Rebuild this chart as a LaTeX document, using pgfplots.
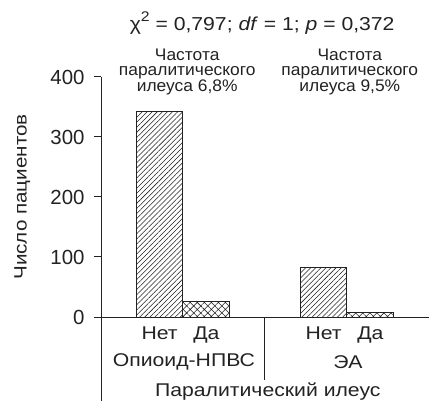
\documentclass[border=0pt]{standalone}
\usepackage{fontspec}
\setmainfont{Liberation Sans}
\newfontfamily\wide[FakeStretch=1.15]{Liberation Sans}
\newfontfamily\wideT[FakeStretch=1.13]{Liberation Sans}
\newfontfamily\wideA[FakeStretch=1.04]{Liberation Sans}
\usepackage{pgfplots}
\pgfplotsset{compat=1.18}
\usetikzlibrary{patterns.meta}
\definecolor{ink}{HTML}{222222}
\begin{document}
\begin{tikzpicture}[x=1bp,y=1bp]
\path[use as bounding box] (0,0) rectangle (429,401);
\begin{axis}[
  at={(101bp,84bp)}, anchor=south west,
  scale only axis, width=328bp, height=240bp,
  xmin=0, xmax=7, ymin=0, ymax=400,
  clip=false,
  axis line style={draw=none},
  ytick={0,100,200,300,400},
  xtick={1.25,2.25,4.75,5.75},
  xticklabels={Нет,Да,Нет,Да},
  tick pos=left,
  tick align=outside,
  major tick length=7bp,
  y tick style={line width=1bp, ink},
  x tick style={draw=none},
  yticklabel style={font=\fontsize{20.5}{21}\selectfont, text=ink, anchor=east, xshift=-6bp},
  xticklabel style={font=\wide\fontsize{18.5}{20}\selectfont, text=ink, anchor=base, yshift=-15bp},
  /pgf/number format/assume math mode=true,
]
\addplot[ybar, bar width=1, bar shift=0, draw=ink, line width=1bp, fill=white,
  postaction={pattern={Lines[angle=45,distance=3.6pt,line width=0.55pt]}, pattern color=ink}]
  coordinates {(1.25,343) (4.75,83)};
\addplot[ybar, bar width=1, bar shift=0, draw=ink, line width=1bp, fill=white,
  postaction={pattern={Hatch[angle=45,distance=5pt,line width=0.55pt]}, pattern color=ink}]
  coordinates {(2.25,25) (5.75,8)};
\draw[line width=1bp, ink] (axis cs:0,400) -- (axis cs:0,-140);
\draw[line width=1bp, ink] (axis cs:0,0) -- (axis cs:7,0);
\draw[line width=1bp, ink] (axis cs:3.5,0) -- (axis cs:3.5,-105);
\node[rotate=90, font=\wide\fontsize{18}{20}\selectfont, text=ink] at (axis cs:-1.68,200) {Число пациентов};
\node[font=\wide\fontsize{18.5}{20}\selectfont, text=ink] at (axis cs:1.77,-75) {Опиоид-НПВС};
\node[font=\wide\fontsize{18.5}{20}\selectfont, text=ink] at (axis cs:5.27,-75) {ЭА};
\node[font=\wide\fontsize{18.5}{20}\selectfont, text=ink] at (axis cs:3.56,-125) {Паралитический илеус};
\node[align=center, font=\wideA\fontsize{16.8}{15.2}\selectfont, text=ink] at (axis cs:1.84,408) {Частота\\паралитического\\илеуса 6,8\%};
\node[align=center, font=\wideA\fontsize{16.8}{15.2}\selectfont, text=ink] at (axis cs:5.31,408) {Частота\\паралитического\\илеуса 9,5\%};
\node[font=\wideT\fontsize{18.8}{21}\selectfont, text=ink] at (axis cs:3.44,490) {χ\raisebox{0.45em}{\fontsize{14}{14}\selectfont 2} = 0,797; \textit{df} = 1; \textit{p} = 0,372};
\end{axis}
\end{tikzpicture}
\end{document}
